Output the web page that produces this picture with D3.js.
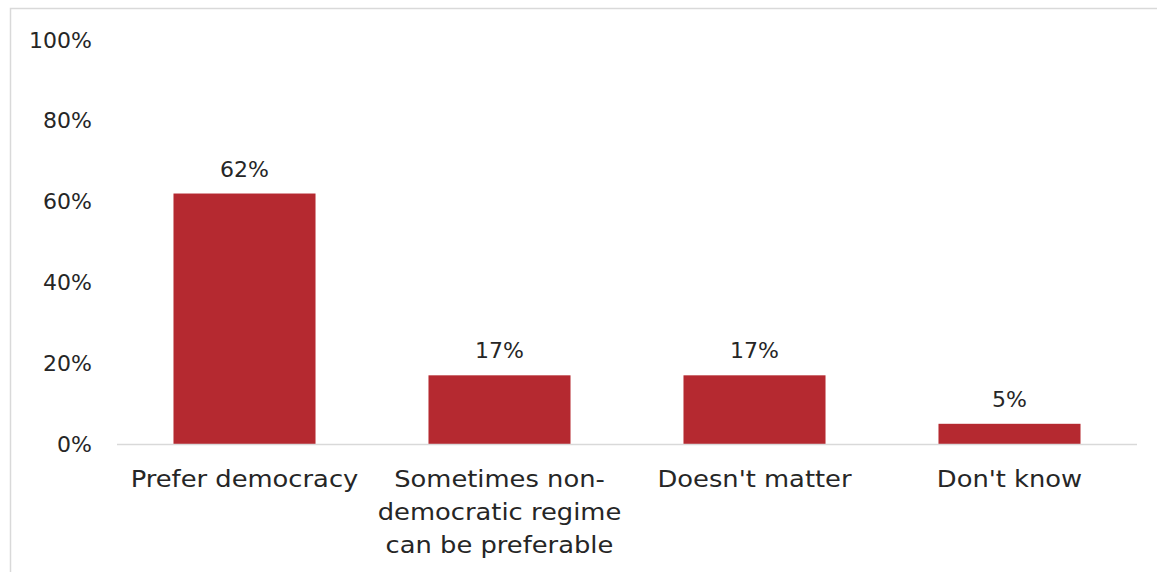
<!DOCTYPE html>
<html><head><meta charset="utf-8">
<script src="https://cdn.jsdelivr.net/npm/d3@7"></script>
<style>body{margin:0;background:#fff;}svg{display:block;}</style>
</head><body>
<svg id="chart" width="1157" height="572"></svg>
<script>
const categories = [["Prefer democracy"], ["Sometimes non-", "democratic regime", "can be preferable"], ["Doesn't matter"], ["Don't know"]];
const values = [62, 17, 17, 5];
const valueLabels = ["62%", "17%", "17%", "5%"];
const yTicks = [0, 20, 40, 60, 80, 100];

const svg = d3.select("#chart");
const font = "'DejaVu Sans', sans-serif";
const textColor = "#262626";
const W = 1157, H = 572;
const m = {left: 117, right: 20, top: 40, bottom: 128};

// frame
svg.append("path").attr("d", `M10.5,${H} V8.5 H${W}`).attr("fill", "none").attr("stroke", "#d9d9d9").attr("stroke-width", 1.5);

const x = d3.scaleBand().domain(d3.range(categories.length)).range([m.left, W - m.right]).paddingInner(0.443).paddingOuter(0.2215);
const y = d3.scaleLinear().domain([0, 100]).range([H - m.bottom, m.top]);

// y axis labels
const yAxis = d3.axisLeft(y).tickValues(yTicks).tickFormat(d => d + "%").tickSize(0).tickPadding(25);
const ya = svg.append("g").attr("transform", `translate(${m.left},0)`).call(yAxis);
ya.select(".domain").remove();
ya.selectAll("text").attr("font-family", font).attr("font-size", 22).attr("fill", textColor);

// bars
svg.selectAll("rect.bar").data(values).join("rect").attr("class", "bar")
  .attr("x", (d, i) => x(i)).attr("width", x.bandwidth())
  .attr("y", d => y(d)).attr("height", d => y(0) - y(d))
  .attr("fill", "#b52930");

// baseline
svg.append("line").attr("x1", m.left).attr("x2", W - m.right).attr("y1", y(0) + 0.5).attr("y2", y(0) + 0.5)
  .attr("stroke", "#d9d9d9").attr("stroke-width", 1.5);

// value labels
svg.selectAll("text.val").data(values).join("text").attr("class", "val")
  .attr("x", (d, i) => x(i) + x.bandwidth() / 2).attr("y", d => y(d) - 17)
  .attr("text-anchor", "middle").attr("font-family", font).attr("font-size", 22).attr("fill", textColor)
  .text((d, i) => valueLabels[i]);

// category labels (stretched horizontally to mimic a wide geometric face)
const stretch = 1.12;
const cl = svg.selectAll("text.cat").data(categories).join("text").attr("class", "cat")
  .attr("text-anchor", "middle").attr("font-family", font).attr("font-size", 23).attr("fill", textColor);
cl.each(function(lines, i) {
  d3.select(this).selectAll("tspan").data(lines).join("tspan")
    .attr("x", x(i) + x.bandwidth() / 2).attr("y", (l, j) => y(0) + 43 + j * 33).text(l => l)
    .each(function() {
      const w = this.getComputedTextLength();
      d3.select(this).attr("textLength", w * stretch).attr("lengthAdjust", "spacingAndGlyphs");
    });
});
</script>
</body></html>
